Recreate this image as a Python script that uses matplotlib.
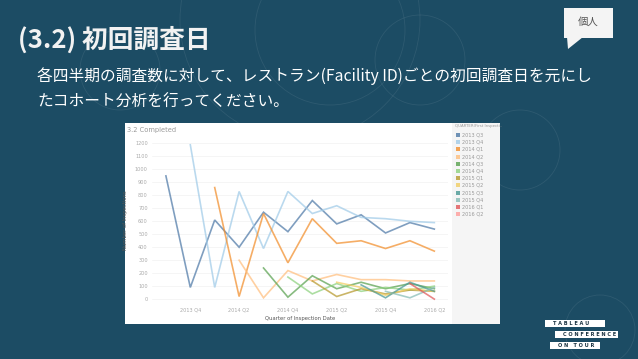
import numpy as np
import matplotlib.pyplot as plt
import matplotlib.patches as patches

# data
quarters = ["2013 Q3", "2013 Q4", "2014 Q1", "2014 Q2", "2014 Q3", "2014 Q4",
            "2015 Q1", "2015 Q2", "2015 Q3", "2015 Q4", "2016 Q1", "2016 Q2"]
cohorts = quarters
n = np.nan
c_2013q3 = [950, 90, 610, 400, 670, 520, 760, 580, 650, 510, 590, 540]
c_2013q4 = [n, 1190, 90, 830, 390, 830, 660, 720, 630, 620, 600, 590]
c_2014q1 = [n, n, 860, 20, 660, 280, 620, 430, 450, 390, 450, 370]
c_2014q2 = [n, n, n, 300, 10, 220, 140, 190, 150, 150, 140, 140]
c_2014q3 = [n, n, n, n, 240, 15, 180, 80, 130, 80, 120, 80]
c_2014q4 = [n, n, n, n, n, 170, 40, 120, 60, 90, 70, 100]
c_2015q1 = [n, n, n, n, n, n, 140, 20, 80, 40, 70, 60]
c_2015q2 = [n, n, n, n, n, n, n, 130, 90, 30, 80, 60]
c_2015q3 = [n, n, n, n, n, n, n, n, 110, 10, 130, 60]
c_2015q4 = [n, n, n, n, n, n, n, n, n, 60, 10, 90]
c_2016q1 = [n, n, n, n, n, n, n, n, n, n, 120, 0]
c_2016q2 = [n, n, n, n, n, n, n, n, n, n, n, 10]
series = [c_2013q3, c_2013q4, c_2014q1, c_2014q2, c_2014q3, c_2014q4,
          c_2015q1, c_2015q2, c_2015q3, c_2015q4, c_2016q1, c_2016q2]
colors = ['#4e79a7', '#a0cbe8', '#f28e2b', '#ffbe7d', '#59a14f', '#8cd17d',
          '#b6992d', '#f1ce63', '#499894', '#86bcb6', '#e15759', '#ff9d9a']
tick_pos = [1, 3, 5, 7, 9, 11]

W, H = 638, 359
bg = '#1c4c64'
fig = plt.figure(figsize=(W/100, H/100), dpi=100, facecolor=bg)

# background layer in pixel coords
bax = fig.add_axes([0, 0, 1, 1])
bax.set_xlim(0, W)
bax.set_ylim(H, 0)
bax.axis('off')

# faint decorative circles
for cx, cy, r in [(330, 30, 75), (420, 60, 45), (300, 20, 120), (520, 150, 40), (120, 70, 40), (600, 330, 35)]:
    bax.add_patch(patches.Circle((cx, cy), r, fill=False, edgecolor='#ffffff', alpha=0.08, linewidth=0.6))

jp = ['Noto Sans CJK JP', 'DejaVu Sans']
bax.text(18, 40, "(3.2) 初回調査日", color='#f2f2f2', fontsize=18.5, fontweight='bold',
         family=jp, va='center', ha='left')
bax.text(37, 76, "各四半期の調査数に対して、レストラン(Facility ID)ごとの初回調査日を元にし",
         color='#ffffff', fontsize=11.3, family=jp, va='center', ha='left')
bax.text(37, 102, "たコホート分析を行ってください。",
         color='#ffffff', fontsize=11.3, family=jp, va='center', ha='left')

# speech bubble tag
bax.add_patch(patches.Rectangle((564, 8), 49, 30, facecolor='#f4f4f4', edgecolor='none'))
bax.add_patch(patches.Polygon([(567, 37), (583, 37), (568, 49)], closed=True, facecolor='#f4f4f4', edgecolor='none'))
bax.text(588, 22, "個人", color='#555555', fontsize=7.5, family=jp, va='center', ha='center')

# chart panel + legend panel
bax.add_patch(patches.Rectangle((125, 123), 327, 201, facecolor='#ffffff', edgecolor='none'))
bax.add_patch(patches.Rectangle((452, 123), 48, 201, facecolor='#f5f5f5', edgecolor='none'))
bax.text(127, 130, "3.2 Completed", color='#999999', fontsize=4.8, va='center', ha='left')

# legend
bax.text(455, 126, "QUARTER(First Inspecti..", color='#999999', fontsize=2.8, va='center', ha='left')
for i, (lab, col) in enumerate(zip(cohorts, colors)):
    y = 135 + i * 7.2
    bax.add_patch(patches.Rectangle((455.5, y - 2), 4, 4, facecolor=col, alpha=0.8, edgecolor='none'))
    bax.text(462, y, lab, color='#999999', fontsize=3.6, va='center', ha='left')

# logo
for (x0, x1, y0, txt) in [(545, 605, 320, "T A B L E A U"), (555, 618, 331, "C O N F E R E N C E"), (550, 600, 342, "O N   T O U R")]:
    bax.add_patch(patches.Rectangle((x0, y0), x1 - x0, 7, facecolor='#ffffff', edgecolor='none'))
    bax.text(x0 + 8, y0 + 3.7, txt, color='#1c3442', fontsize=3.6, fontweight='bold', va='center', ha='left')

# line chart
ax = fig.add_axes([152/W, 1 - 303/H, 296/W, (303 - 137)/H])
ax.set_facecolor('none')
x = np.arange(len(quarters))
for vals, col in zip(series, colors):
    ax.plot(x, vals, color=col, linewidth=1.2, alpha=0.72, solid_joinstyle='miter')
ax.set_xlim(-0.57, 11.56)
ax.set_ylim(-30, 1250)
ax.set_yticks(range(0, 1201, 100))
ax.set_xticks(tick_pos)
ax.set_xticklabels([quarters[i] for i in tick_pos])
ax.tick_params(length=0, labelsize=3.6, labelcolor='#aaaaaa', pad=3)
ax.grid(axis='y', color='#f2f2f2', linewidth=0.5)
ax.set_axisbelow(True)
for s in ax.spines.values():
    s.set_visible(False)
ax.set_ylabel("Number of Inspections", fontsize=3.8, color='#555555', labelpad=5)
ax.set_xlabel("Quarter of Inspection Date", fontsize=3.8, color='#555555', labelpad=3)

plt.savefig("out.png", dpi=100, facecolor=bg)
